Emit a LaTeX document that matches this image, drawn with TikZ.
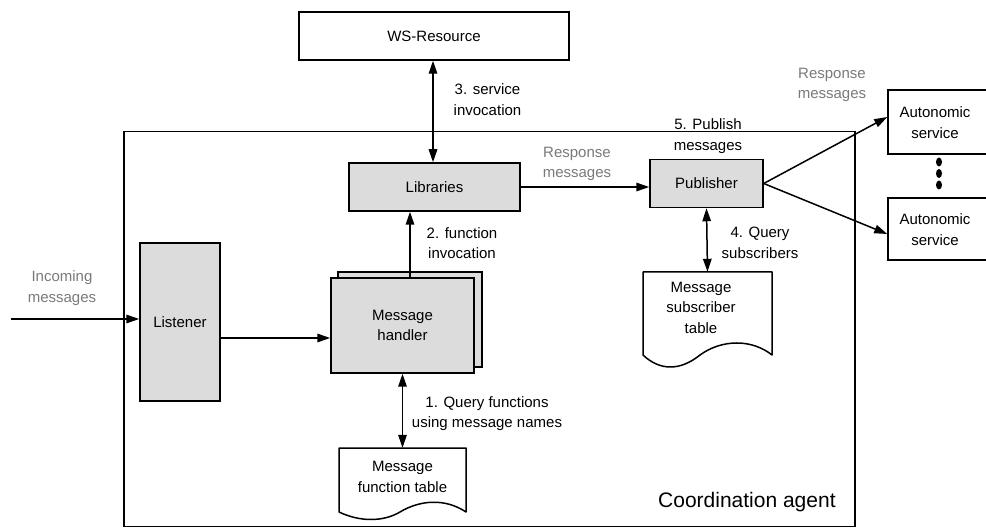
\documentclass[tikz,border=0pt]{standalone}
\usepackage{fontspec}
\setmainfont{Liberation Sans}
\usetikzlibrary{arrows.meta}
\definecolor{boxgray}{HTML}{DCDCDC}
\definecolor{notegray}{HTML}{7A7A7A}
\begin{document}
\begin{tikzpicture}[x=1pt,y=-1pt,
  every node/.style={font=\fontsize{15}{20.5}\selectfont, inner sep=0pt, align=center},
  box/.style={draw, line width=1.5pt, fill=white},
  greybox/.style={box, fill=boxgray},
  arr/.style={line width=1.5pt, -{Triangle[length=13pt,width=8.5pt]}},
  darr/.style={line width=1.5pt, {Triangle[length=13pt,width=8.5pt]}-{Triangle[length=13pt,width=8.5pt]}},
  note/.style={text=notegray},
  docshape/.style={draw, line width=1.5pt, fill=white, line join=round}]
\useasboundingbox (0,0) rectangle (986,529);

% coordination agent frame
\node[box, minimum width=731pt, minimum height=395pt] (agent) at (489.5,329) {};
\node[font=\fontsize{21}{24}\selectfont, anchor=west] (agentlbl) at (658,502) {Coordination agent};

% external resource
\node[box, minimum width=270pt, minimum height=48pt] (ws) at (434,36) {WS-Resource};

% components inside the agent
\node[greybox, minimum width=171pt, minimum height=48pt] (lib) at (434.5,187) {Libraries};
\node[greybox, minimum width=113pt, minimum height=48pt] (pub) at (706.5,183.5) {Publisher};
\node[greybox, minimum width=80pt, minimum height=158pt] (lst) at (180,322) {Listener};
\node[greybox, minimum width=144pt, minimum height=95pt] (mhb) at (410,319.5) {};
\node[greybox, minimum width=143pt, minimum height=95pt] (mh) at (402.5,325.5) {Message\\handler};

% message function table (document shape)
\draw[docshape] (339,448) -- (466,448) -- (466,512)
  .. controls (445,498) and (420,500) .. (400,512)
  .. controls (383,522) and (360,522) .. (339,512) -- cycle;
\node[minimum width=127pt, minimum height=58pt] (mft) at (402.5,477) {Message\\function table};

% message subscriber table (document shape)
\draw[docshape] (643,272) -- (772,272) -- (772,355)
  .. controls (752,339) and (722,339) .. (700,355)
  .. controls (680,371) and (660,371) .. (643,355) -- cycle;
\node[minimum width=129pt, minimum height=71pt] (msub) at (707.5,307.5) {};
\node (msubt) at (701,307.5) {Message\\subscriber\\table};

% autonomic services
\node[box, minimum width=110pt, minimum height=64pt] (as1) at (943,122) {};
\node (as1t) at (935,122.5) {Autonomic\\service};
\node[box, minimum width=110pt, minimum height=62pt] (as2) at (943,229) {};
\node (as2t) at (935,229.5) {Autonomic\\service};
\fill (939,162) ellipse (3pt and 4.5pt);
\fill (939,173.5) ellipse (3pt and 4.5pt);
\fill (939,185) ellipse (3pt and 4.5pt);

% connectors
\coordinate (in) at (11,319);
\draw[arr] (in) -- (in -| lst.west);
\coordinate (lm) at (220,338);
\draw[arr] (lm) -- (lm -| mh.west);
\draw[arr] (mhb.north |- mh.north) -- (mhb.north |- lib.south);
\draw[darr] (mh.south) -- (mft.north);
\draw[darr] (lib.north -| 433,0) -- (ws.south -| 433,0);
\draw[arr] (lib.east) -- (lib.east -| pub.west);
\draw[darr] (pub.south) -- (msub.north);
\draw[arr] (pub.east) -- ([yshift=5pt]as1.west);
\draw[arr] (pub.east) -- ([yshift=-5pt]as2.west);

% connector labels
\node (l3) at (487.5,99.5) {3. service\\invocation};
\node (l2) at (462,243) {2. function\\invocation};
\node (l1) at (487,413.5) {1. Query functions\\using message names};
\node (l4) at (760,243) {4. Query\\subscribers};
\node (l5) at (708,136) {5. Publish\\messages};
\node[note] (r1) at (577,164) {Response\\messages};
\node[note] (r2) at (832,85) {Response\\messages};
\node[note] (inc) at (62,288) {Incoming\\messages};
\end{tikzpicture}
\end{document}
